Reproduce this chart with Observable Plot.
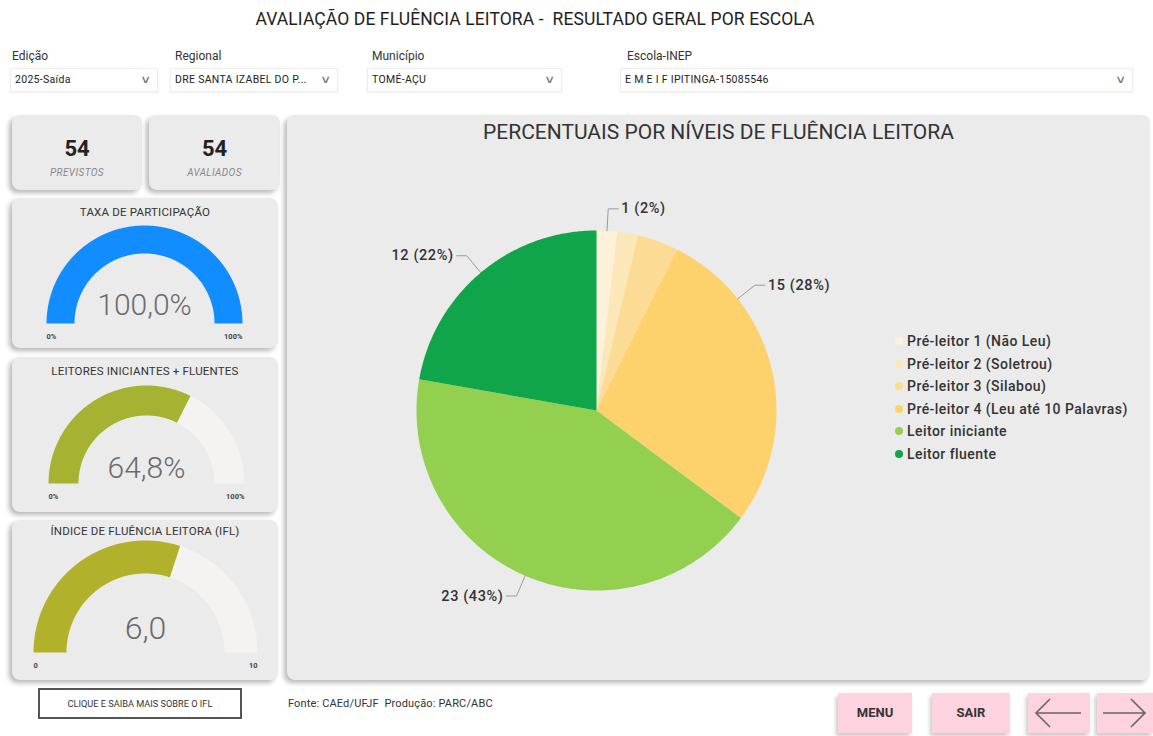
<!DOCTYPE html>
<html>
<head>
<meta charset="utf-8">
<script src="https://cdn.jsdelivr.net/npm/d3@7"></script>
<script src="https://cdn.jsdelivr.net/npm/@observablehq/plot@0.6"></script>
<style>
  html, body { margin: 0; padding: 0; background: #fff; }
  body { width: 1153px; height: 736px; position: relative; overflow: hidden; font-family: Roboto, "DejaVu Sans", sans-serif; color: #333; }
  .abs { position: absolute; }
  .title { left: 150px; width: 770px; top: 9px; text-align: center; font-size: 17.5px; font-weight: 400; color: #1e1e1e; letter-spacing: 0.1px; }
  .flabel { top: 49px; font-size: 12px; color: #333; }
  .dd { top: 68px; height: 24px; background: #fff; border: 1px solid #ededed; box-sizing: border-box; font-size: 10.5px; color: #222; line-height: 22px; padding-left: 4px; letter-spacing: 0.3px; box-shadow: 0 1px 2px rgba(0,0,0,0.06); }
  .dd .chev { position: absolute; right: 7px; top: 0; color: #777; font-size: 11px; transform: scaleX(1.4); font-weight: 300; }
  .card { background: #ebebeb; border-radius: 8px; box-shadow: -3px 3px 5px rgba(0,0,0,0.28); }
  .big { width: 100%; text-align: center; font-weight: 700; font-size: 22px; color: #222; top: 21px; }
  .small { width: 100%; text-align: center; font-style: italic; font-size: 10px; color: #888; top: 52px; letter-spacing: 0.4px; }
  .ctitle { width: 100%; text-align: center; font-size: 11.5px; color: #333; top: 7px; letter-spacing: 0.2px; }
  .legend { left: 608px; top: 216px; }
  .legend div { height: 22.6px; line-height: 20px; font-size: 14px; font-weight: 500; color: #333; white-space: nowrap; letter-spacing: 0.45px; }
  .legend span.dot { display: inline-block; width: 8px; height: 8px; border-radius: 50%; margin-right: 4px; vertical-align: 1px; }
  .btn { background: #fcd3de; box-shadow: -2px 3px 4px rgba(0,0,0,0.22); text-align: center; font-weight: 700; font-size: 13px; color: #333; }
  .btn svg { position: absolute; left: 0; top: 0; }
</style>
</head>
<body>
<div class="abs title">AVALIAÇÃO DE FLUÊNCIA LEITORA -&nbsp; RESULTADO GERAL POR ESCOLA</div>

<div class="abs flabel" style="left:12px">Edição</div>
<div class="abs flabel" style="left:175px">Regional</div>
<div class="abs flabel" style="left:372px">Município</div>
<div class="abs flabel" style="left:627px">Escola-INEP</div>

<div class="abs dd" style="left:10px;width:148px">2025-Saída<span class="chev">∨</span></div>
<div class="abs dd" style="left:170px;width:168px">DRE SANTA IZABEL DO P...<span class="chev">∨</span></div>
<div class="abs dd" style="left:367px;width:195px">TOMÉ-AÇU<span class="chev">∨</span></div>
<div class="abs dd" style="left:620px;width:513px">E M E I F IPITINGA-15085546<span class="chev">∨</span></div>

<div class="abs card" style="left:12px;top:115px;width:130px;height:75px">
  <div class="abs big" id="prev"></div><div class="abs small">PREVISTOS</div>
</div>
<div class="abs card" style="left:149px;top:115px;width:131px;height:75px">
  <div class="abs big" id="aval"></div><div class="abs small">AVALIADOS</div>
</div>

<div class="abs card" id="cardC" style="left:12px;top:198px;width:266px;height:150px">
  <div class="abs ctitle" id="t0"></div>
</div>
<div class="abs card" id="cardD" style="left:12px;top:357px;width:266px;height:155px">
  <div class="abs ctitle" id="t1"></div>
</div>
<div class="abs card" id="cardE" style="left:12px;top:520px;width:266px;height:160px">
  <div class="abs ctitle" id="t2" style="top:4px"></div>
</div>

<div class="abs card" id="main" style="left:287px;top:115px;width:863px;height:565px">
  <div class="abs" style="left:0;width:863px;top:5px;text-align:center;font-size:21px;color:#333;">PERCENTUAIS POR NÍVEIS DE FLUÊNCIA LEITORA</div>
  <div class="abs legend" id="legend"></div>
</div>

<div class="abs" style="left:38px;top:688px;width:204px;height:31px;border:2px solid #555;box-sizing:border-box;background:#fff;text-align:center;line-height:27px;font-size:9.2px;color:#333;">CLIQUE E SAIBA MAIS SOBRE O IFL</div>
<div class="abs" style="left:288px;top:697px;font-size:11px;color:#333;letter-spacing:0.15px">Fonte: CAEd/UFJF&nbsp; Produção: PARC/ABC</div>

<div class="abs btn" style="left:838px;top:693px;width:74px;height:40px;line-height:40px">MENU</div>
<div class="abs btn" style="left:932px;top:693px;width:78px;height:40px;line-height:40px">SAIR</div>
<div class="abs btn" style="left:1028px;top:693px;width:62px;height:40px">
  <svg width="62" height="40"><path d="M8,20 H53 M22,6 L8,20 L22,34" fill="none" stroke="#666" stroke-width="1.6"/></svg>
</div>
<div class="abs btn" style="left:1097px;top:693px;width:56px;height:40px">
  <svg width="56" height="40"><path d="M6,20 H48 M34,6 L48,20 L34,34" fill="none" stroke="#666" stroke-width="1.6"/></svg>
</div>

<script>
// ---------------- DATA ----------------
const levels = ["Pré-leitor 1 (Não Leu)", "Pré-leitor 2 (Soletrou)", "Pré-leitor 3 (Silabou)", "Pré-leitor 4 (Leu até 10 Palavras)", "Leitor iniciante", "Leitor fluente"];
const counts = [1, 1, 2, 15, 23, 12];
const labelShown = [true, false, false, true, true, true];
const previstos = 54;
const avaliados = 54;
const gaugeTitles = ["TAXA DE PARTICIPAÇÃO", "LEITORES INICIANTES + FLUENTES", "ÍNDICE DE FLUÊNCIA LEITORA (IFL)"];
const gaugeValues = [100.0, 64.8, 6.0];
const gaugeMax = [100, 100, 10];
const gaugeValueLabels = ["100,0%", "64,8%", "6,0"];
const gaugeMinLabels = ["0%", "0%", "0"];
const gaugeMaxLabels = ["100%", "100%", "10"];

// ---------------- STYLE ----------------
const levelColors = ["#fdf1da", "#fce7b9", "#fcdc94", "#fdd26c", "#94d050", "#10a54a"];
const gaugeColors = ["#118dff", "#a6b332", "#b1b12c"];
const trackColor = "#f4f3f1";

document.getElementById("prev").textContent = previstos;
document.getElementById("aval").textContent = avaliados;
gaugeTitles.forEach((t, i) => document.getElementById("t" + i).textContent = t);

const rad = d => d * Math.PI / 180;
// ring / wedge polygon; angle measured clockwise from top
function ring(key, a0, a1, r0, r1) {
  const pts = [];
  const n = Math.max(2, Math.ceil(Math.abs(a1 - a0) / 0.5));
  for (let i = 0; i <= n; i++) { const a = rad(a0 + (a1 - a0) * i / n); pts.push({key, x: r1 * Math.sin(a), y: r1 * Math.cos(a)}); }
  if (r0 === 0) pts.push({key, x: 0, y: 0});
  else for (let i = n; i >= 0; i--) { const a = rad(a0 + (a1 - a0) * i / n); pts.push({key, x: r0 * Math.sin(a), y: r0 * Math.cos(a)}); }
  return pts;
}

// ---------------- PIE ----------------
{
  const W = 863, H = 565, cx = 309, cy = 295, R = 180, ext = 22, arm = 10;
  const total = d3.sum(counts);
  const labelFrac = [0.5, 0.5, 0.5, 0.25, 0.5, 0.5];
  let acc = 0;
  const slices = [], leaders = [], labels = [];
  counts.forEach((c, i) => {
    const a0 = acc / total * 360, a1 = (acc + c) / total * 360;
    acc += c;
    slices.push(...ring(levels[i], a0, a1, 0, R));
    if (labelShown[i]) {
      const a = rad(a0 + (a1 - a0) * labelFrac[i]);
      const side = Math.sin(a) >= 0 ? 1 : -1;
      const e = {x: R * Math.sin(a), y: R * Math.cos(a)};
      const k = {x: (R + ext) * Math.sin(a), y: (R + ext) * Math.cos(a)};
      const t = {x: k.x + side * arm, y: k.y};
      leaders.push({key: i, ...e}, {key: i, ...k}, {key: i, ...t});
      labels.push({x: t.x, y: t.y, side, text: `${c} (${Math.round(c / total * 100)}%)`});
    }
  });
  const txt = {x: "x", y: "y", text: "text", fontSize: 14.5, fontWeight: 500, fill: "#333", fontFamily: "Roboto"};
  const chart = Plot.plot({
    width: W, height: H, margin: 0,
    x: {domain: [-cx, W - cx], axis: null},
    y: {domain: [-(H - cy), cy], axis: null},
    color: {domain: levels, range: levelColors},
    style: "background: transparent; overflow: visible; position:absolute; left:0; top:0;",
    marks: [
      Plot.line(slices, {x: "x", y: "y", z: "key", fill: "key", stroke: "none"}),
      Plot.line(leaders, {x: "x", y: "y", z: "key", stroke: "#9a9a9a", strokeWidth: 1}),
      Plot.text(labels.filter(d => d.side > 0), {...txt, textAnchor: "start", dx: 3}),
      Plot.text(labels.filter(d => d.side < 0), {...txt, textAnchor: "end", dx: -3})
    ]
  });
  chart.querySelectorAll("text").forEach(t => t.style.letterSpacing = "0.6px");
  const main = document.getElementById("main");
  main.insertBefore(chart, main.firstChild);

  const lg = document.getElementById("legend");
  levels.forEach((l, i) => {
    const row = document.createElement("div");
    row.innerHTML = `<span class="dot" style="background:${levelColors[i]}"></span>${l}`;
    lg.appendChild(row);
  });
}

// ---------------- GAUGES ----------------
const gaugeLayout = [
  {id: "cardC", W: 266, H: 150, cx: 132, cy: 125, R: 98, r: 70, fs: 30, vy: 18},
  {id: "cardD", W: 266, H: 155, cx: 134, cy: 126, R: 98, r: 68, fs: 30, vy: 15},
  {id: "cardE", W: 266, H: 160, cx: 133, cy: 132, R: 112, r: 79, fs: 32, vy: 24}
];
gaugeValues.forEach((v, i) => {
  const L = gaugeLayout[i];
  const frac = v / gaugeMax[i];
  const data = [...ring("rest", -90, 90, L.r, L.R), ...ring("val", -90, -90 + 180 * frac, L.r, L.R)];
  const ends = [
    {x: -L.R, y: -13, text: gaugeMinLabels[i]},
    {x: L.R, y: -13, text: gaugeMaxLabels[i]}
  ];
  const chart = Plot.plot({
    width: L.W, height: L.H, margin: 0,
    x: {domain: [-L.cx, L.W - L.cx], axis: null},
    y: {domain: [-(L.H - L.cy), L.cy], axis: null},
    color: {domain: ["rest", "val"], range: [trackColor, gaugeColors[i]]},
    style: "background: transparent; overflow: visible; position:absolute; left:0; top:0;",
    marks: [
      Plot.line(data, {x: "x", y: "y", z: "key", fill: "key", stroke: "none"}),
      Plot.text([gaugeValueLabels[i]], {x: 0, y: L.vy, text: d => d, fontSize: L.fs, fontWeight: 300, fill: "#6b6b6b", fontFamily: "Roboto"}),
      Plot.text(ends.slice(0, 1), {x: "x", y: "y", text: "text", textAnchor: "start", fontSize: 7.5, fontWeight: 700, fill: "#444", fontFamily: "Roboto"}),
      Plot.text(ends.slice(1), {x: "x", y: "y", text: "text", textAnchor: "end", fontSize: 7.5, fontWeight: 700, fill: "#444", fontFamily: "Roboto"})
    ]
  });
  const card = document.getElementById(L.id);
  card.insertBefore(chart, card.firstChild);
});
</script>
</body>
</html>
